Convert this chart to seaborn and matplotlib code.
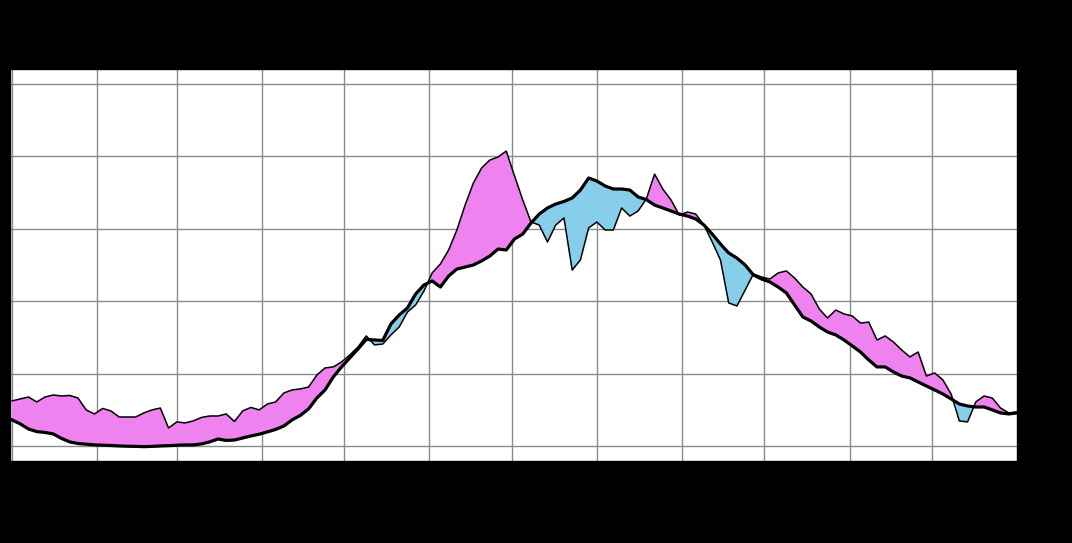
import numpy as np
import pandas as pd
import matplotlib
matplotlib.use("Agg")
import matplotlib.pyplot as plt
import seaborn as sns

# Day of year (sampled every 3 days, leap year)
days = list(range(0, 367, 3))

normal = [1.80, 1.52, 1.17, 0.99, 0.93, 0.83, 0.52, 0.28, 0.17, 0.12,
          0.07, 0.05, 0.03, 0.00, -0.02, -0.03, -0.05, -0.03, 0.00, 0.02,
          0.05, 0.07, 0.07, 0.14, 0.28, 0.48, 0.38, 0.41, 0.55, 0.69,
          0.81, 0.97, 1.14, 1.38, 1.80, 2.11, 2.56, 3.31, 3.87, 4.77,
          5.46, 6.08, 6.70, 7.36, 7.32, 7.29, 8.43, 9.05, 9.53, 10.50,
          11.12, 11.40, 10.98, 11.74, 12.22, 12.36, 12.50, 12.78, 13.12, 13.60,
          13.54, 14.30, 14.64, 15.40, 16.02, 16.44, 16.71, 16.89, 17.13, 17.68,
          18.51, 18.30, 17.96, 17.75, 17.75, 17.68, 17.20, 17.02, 16.64, 16.44,
          16.23, 16.02, 15.88, 15.68, 15.26, 14.64, 13.95, 13.33, 12.98, 12.50,
          11.81, 11.53, 11.33, 10.98, 10.57, 9.74, 8.91, 8.63, 8.22, 7.87,
          7.67, 7.32, 6.91, 6.49, 5.94, 5.46, 5.46, 5.11, 4.83, 4.70,
          4.42, 4.14, 3.87, 3.59, 3.25, 2.90, 2.76, 2.69, 2.69, 2.49,
          2.28, 2.21, 2.28]

actual = [3.11, 3.25, 3.38, 3.04, 3.38, 3.52, 3.45, 3.49, 3.31, 2.49,
          2.21, 2.59, 2.42, 2.00, 2.00, 2.00, 2.28, 2.49, 2.62, 1.24,
          1.66, 1.59, 1.73, 1.97, 2.07, 2.07, 2.21, 1.69, 2.42, 2.66,
          2.49, 2.90, 3.04, 3.66, 3.87, 3.94, 4.07, 4.90, 5.39, 5.46,
          5.80, 6.28, 6.84, 7.60, 6.98, 7.04, 7.67, 8.22, 9.25, 9.74,
          10.70, 11.95, 12.57, 13.54, 14.92, 16.64, 18.16, 19.20, 19.75, 19.96,
          20.37, 18.65, 16.99, 15.47, 15.26, 14.09, 15.26, 15.75, 12.15, 12.85,
          15.06, 15.47, 14.92, 14.92, 16.44, 15.88, 16.23, 17.06, 18.78, 17.75,
          16.99, 15.95, 16.16, 16.02, 15.26, 14.09, 12.85, 9.88, 9.67, 10.77,
          11.88, 11.67, 11.53, 11.95, 12.09, 11.60, 10.98, 10.50, 9.46, 8.84,
          9.39, 9.12, 8.98, 8.49, 8.56, 7.32, 7.60, 7.18, 6.63, 6.15,
          6.49, 4.83, 5.04, 4.56, 3.59, 1.73, 1.66, 3.04, 3.45, 3.31,
          2.62, 2.28, 2.35]

month_starts = [0, 31, 60, 91, 121, 152, 182, 213, 244, 274, 305, 335]
month_labels = ["Jan", "Feb", "Mar", "Apr", "May", "Jun",
                "Jul", "Aug", "Sep", "Oct", "Nov", "Dec"]
y_ticks = [0, 5, 10, 15, 20, 25]

df = pd.DataFrame({"day": days, "normal": normal, "actual": actual})

fig = plt.figure(figsize=(10.72, 5.43), dpi=100, facecolor="black")
ax = fig.add_axes([10 / 1072, 82 / 543, 1007 / 1072, 392 / 543])
ax.set_facecolor("white")

x = df["day"].to_numpy()
a = df["actual"].to_numpy()
n = df["normal"].to_numpy()
ax.fill_between(x, a, n, where=a >= n, interpolate=True,
                color="#EE82EE", linewidth=0, zorder=2)
ax.fill_between(x, a, n, where=a < n, interpolate=True,
                color="#87CEEB", linewidth=0, zorder=2)

sns.lineplot(data=df, x="day", y="actual", ax=ax, color="black",
             linewidth=1.1, zorder=3)
sns.lineplot(data=df, x="day", y="normal", ax=ax, color="black",
             linewidth=2.3, zorder=4)

ax.set_xlim(-0.75, 366)
ax.set_ylim(-1.04, 26.04)
ax.set_xticks(month_starts)
ax.set_xticklabels(month_labels, color="black")
ax.set_yticks(y_ticks)
ax.set_yticklabels([str(v) for v in y_ticks], color="black")
ax.yaxis.tick_right()
ax.grid(True, color="#8a8a8a", linewidth=1.0, zorder=1)
ax.set_axisbelow(True)
ax.set_xlabel("")
ax.set_ylabel("")
for s in ax.spines.values():
    s.set_color("black")
    s.set_linewidth(1.0)
ax.tick_params(colors="black")

fig.savefig("out.png", dpi=100, facecolor="black")
